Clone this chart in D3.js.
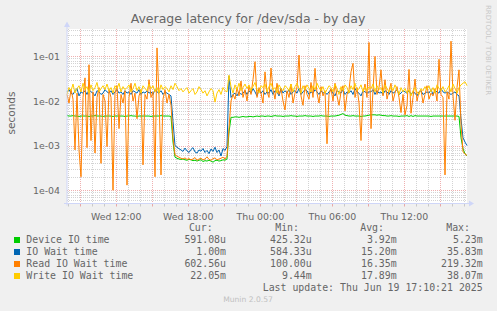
<!DOCTYPE html>
<html lang="en">
<head>
<meta charset="UTF-8">
<title>Average latency for /dev/sda - by day</title>
<script src="https://cdn.jsdelivr.net/npm/d3@7"></script>
<style>
    body{margin:0;background:#f0f0f0;}
    svg{display:block;font-family:'DejaVu Sans',sans-serif;}
    .axis text{fill:#666;font-size:9.4px;font-family:'DejaVu Sans',sans-serif;}
    .legend text{font-family:'DejaVu Sans Mono',monospace;font-size:9.9px;fill:#666;}
</style>
</head>
<body>
<div id="container"></div>
<script>
    // 10 minute samples starting Wed 07:56, values in milliseconds
    var startTime = new Date(2025, 5, 18, 7, 56)
    var stepMinutes = 10

    var deviceMs = [
      4.7,4.6,4.6,4.7,4.6,4.6,4.5,4.6,4.6,4.6,
      4.6,4.5,4.6,4.6,4.7,4.6,4.6,4.6,4.5,4.6,
      4.6,4.6,4.6,4.5,4.6,4.6,4.6,4.6,4.6,4.5,
      4.6,4.6,4.7,4.6,4.6,4.5,4.6,4.6,4.6,4.6,
      4.6,4.6,4.5,4.6,4.6,4.6,4.6,4.7,4.6,4.6,
      4.6,4.6,4.5,1.2,0.55,0.52,0.50,0.49,0.50,0.48,
      0.47,0.49,0.48,0.46,0.47,0.45,0.47,0.48,0.44,0.46,
      0.45,0.47,0.45,0.4253,0.46,0.47,0.45,0.46,0.48,0.47,
      0.50,2.0,4.3,4.3,4.4,4.4,4.3,4.4,4.5,4.4,
      4.4,4.5,4.5,4.4,4.5,4.6,4.5,4.6,4.6,4.5,
      4.6,4.6,4.5,4.6,4.7,4.6,4.6,4.6,4.5,4.6,
      4.6,4.6,4.7,4.6,4.6,4.5,4.6,4.6,4.6,4.7,
      4.6,4.6,4.6,4.5,4.6,4.6,4.6,4.7,4.6,4.6,
      4.6,4.5,4.6,4.6,4.6,4.7,4.8,5.0,5.23,4.8,
      4.7,4.6,4.6,4.7,4.6,4.6,4.6,4.5,4.6,4.6,
      4.7,4.8,4.9,4.9,4.9,4.8,4.9,4.8,4.7,4.7,
      4.6,4.6,4.7,4.6,4.6,4.6,4.5,4.6,4.6,4.6,
      4.7,4.5,4.7,4.5,4.7,4.6,4.6,4.6,4.6,4.6,
      4.6,4.6,4.5,4.6,4.6,4.6,4.6,4.6,4.6,4.6,
      4.6,4.6,4.6,4.6,4.6,4.6,4.5,1.5,0.85,0.65,
      0.59108
    ]
    var ioWaitMs = [
      16,18,15,14,17,19,13,16,15,17,
      14,18,16,15,13,17,16,14,15,18,
      16,15,17,14,16,18,15,16,14,17,
      15,16,14,17,16,15,18,14,16,15,
      17,15,16,14,18,16,15,17,14,16,
      15,14,13,3.5,1.0,0.92,0.85,0.80,0.74,0.88,
      0.76,0.70,0.82,0.90,0.72,0.68,0.80,0.75,0.86,0.70,
      0.78,0.66,0.84,0.74,0.92,0.70,0.80,0.5843,0.86,0.78,
      0.95,35.83,12,14,15,13,16,14,15,17,
      14,17,15,19,16,13,18,15,17,14,
      16,15,18,14,17,16,13,19,15,17,
      15,18,14,16,17,15,19,14,16,18,
      17,14,16,15,18,16,14,17,15,16,
      14,16,18,15,13,17,16,15,18,14,
      16,15,17,14,19,16,15,13,17,16,
      15,16,16,18,14,17,15,16,14,17,
      16,14,17,15,16,18,14,15,17,16,
      15,17,14,16,15,13,16,17,14,15,
      16,15,18,14,17,16,15,19,16,15,
      16,15,14,15,16,14,13,4.0,1.5,1.2,
      1.00
    ]
    var readMs = [
      14,9,18,11,0.8,15,0.8,0.2,12,33,
      0.9,65,1.3,16,0.68,12,20,0.4,14,10,
      0.95,18,12,0.1,15,22,2.4,14,9,17,
      0.13,12,25,10,15,4.0,13,18,0.37,14,
      11,30,12,16,0.2,155,13,0.22,11,18,
      9,14,8,1.5,0.62,0.58,0.55,0.52,0.50,0.53,
      0.49,0.51,0.48,0.50,0.54,0.47,0.50,0.52,0.48,0.50,
      0.56,0.49,0.47,0.51,0.53,0.48,0.50,0.52,0.55,0.50,
      0.58,2.5,10,14,11,20,13,28,12,18,
      10,22,14,30,76,12,20,15,9,45,
      16,12,55,18,11,25,14,19,10,6.3,
      17,12,24,9,15,20,107,13,8,22,
      14,11,26,12,54,15,9,21,13,17,
      1.1,14,19,10,25,13,8,16,22,6,
      14,18,45,70,12,20,9,1.3,15,24,
      12,205,2.4,18,100,14,20,50,13,30,
      11,17,25,10,15,21,12,5.5,14,4.9,
      8,51,5.3,12,31,10,16,18,9,14,
      22,11,15,13,19,10,86,14,12,0.22,
      16,11,219.32,13,3.7,20,50,3.0,0.73,0.65,
      0.60256
    ]
    var writeMs = [
      14,20,17,24,15,19,22,16,25,18,
      21,15,23,17,20,26,16,19,22,18,
      24,17,20,15,22,19,25,16,21,18,
      20,23,16,19,25,17,21,15,22,19,
      17,24,19,22,16,20,15,23,18,21,
      19,16,22,18,25,21,17,19,16,18,
      20,15,17,19,14,16,21,18,15,17,
      13,16,19,17,9.44,15,18,14,20,17,
      16,38.07,21,15,23,18,25,17,20,24,
      19,23,17,21,26,18,15,22,20,24,
      16,21,25,18,20,15,23,19,17,22,
      20,17,24,16,21,25,19,15,22,18,
      23,19,16,22,18,25,20,17,21,15,
      18,22,20,16,24,19,14,21,17,23,
      20,15,22,18,25,17,19,23,16,21,
      17,21,19,24,16,22,18,20,15,23,
      19,16,21,17,23,18,14,20,16,19,
      15,18,13,17,20,16,14,19,17,21,
      18,22,16,20,15,23,19,17,21,16,
      18,22,16,24,19,15,20,23,25,27,
      22.05
    ]

    var seriesNames = ["Device IO time", "IO Wait time", "Read IO Wait time", "Write IO Wait time"]
    var seriesColors = ["#00cc00", "#0066b3", "#ff8000", "#ffcc00"]
    var curLabels = ["591.08u", "1.00m", "602.56u", "22.05m"]
    var minLabels = ["425.32u", "584.33u", "100.00u", "9.44m"]
    var avgLabels = ["3.92m", "15.20m", "16.35m", "17.89m"]
    var maxLabels = ["5.23m", "35.83m", "219.32m", "38.07m"]
    var yTickValues = [1e-4, 1e-3, 1e-2, 1e-1]

    let width = 497
    let height = 311
    let plotLeft = 67, plotRight = 467, plotTop = 29, plotBottom = 203.5

    let svg = d3.select("#container")
      .append("svg")
      .attr("width", width)
      .attr("height", height)

    let times = deviceMs.map((d, i) => new Date(startTime.getTime() + i * stepMinutes * 60000))

    let xScale = d3.scaleTime()
      .domain([times[0], times[times.length - 1]])
      .range([plotLeft, plotRight])

    let yScale = d3.scaleLog()
      .domain([Math.pow(10, -4.298), Math.pow(10, -0.386)])
      .range([plotBottom, plotTop])

    // white canvas
    svg.append("rect")
      .attr("x", plotLeft).attr("y", plotTop)
      .attr("width", plotRight - plotLeft).attr("height", plotBottom - plotTop)
      .attr("fill", "#fff")

    let minorColor = "rgba(128,128,128,0.35)"
    let majorColor = "rgba(220,80,80,0.45)"
    let isDecade = v => Math.abs(Math.log10(v) - Math.round(Math.log10(v))) < 1e-6

    // horizontal grid
    let yGrid = yScale.ticks()
    svg.append("g").selectAll("line")
      .data(yGrid)
      .enter().append("line")
      .attr("x1", plotLeft).attr("x2", plotRight)
      .attr("y1", d => Math.round(yScale(d)) + 0.5)
      .attr("y2", d => Math.round(yScale(d)) + 0.5)
      .attr("stroke", d => isDecade(d) ? majorColor : minorColor)
      .attr("stroke-dasharray", "1,1")

    // vertical grid: hours grey, every 3 hours red
    let hourTicks = xScale.ticks(d3.timeHour.every(1))
    svg.append("g").selectAll("line")
      .data(hourTicks)
      .enter().append("line")
      .attr("x1", d => Math.round(xScale(d)) + 0.5)
      .attr("x2", d => Math.round(xScale(d)) + 0.5)
      .attr("y1", plotTop).attr("y2", plotBottom)
      .attr("stroke", d => d.getHours() % 3 == 0 ? majorColor : minorColor)
      .attr("stroke-dasharray", "1,1")

    // small ticks under the x axis
    svg.append("g").selectAll("line")
      .data(hourTicks)
      .enter().append("line")
      .attr("x1", d => Math.round(xScale(d)) + 0.5)
      .attr("x2", d => Math.round(xScale(d)) + 0.5)
      .attr("y1", plotBottom).attr("y2", plotBottom + 3)
      .attr("stroke", d => d.getHours() % 3 == 0 ? majorColor : minorColor)

    // series lines
    let allSeries = [deviceMs, ioWaitMs, readMs, writeMs]
    let line = d3.line()
      .x((d, i) => xScale(times[i]))
      .y(d => yScale(d / 1000))

    svg.append("g").selectAll("path")
      .data(allSeries)
      .enter().append("path")
      .attr("d", d => line(d))
      .attr("fill", "none")
      .attr("stroke", (d, i) => seriesColors[i])
      .attr("stroke-width", 1)

    // axis lines and arrows
    let axisColor = "#cfd6f8"
    svg.append("line")
      .attr("x1", plotLeft - 3).attr("x2", plotRight + 3)
      .attr("y1", plotBottom).attr("y2", plotBottom)
      .attr("stroke", axisColor)
    svg.append("line")
      .attr("x1", plotLeft).attr("x2", plotLeft)
      .attr("y1", plotBottom + 2).attr("y2", plotTop - 3)
      .attr("stroke", axisColor)
    svg.append("path")
      .attr("d", `M${plotRight + 2},${plotBottom - 3}L${plotRight + 7},${plotBottom}L${plotRight + 2},${plotBottom + 3}Z`)
      .attr("fill", axisColor)
    svg.append("path")
      .attr("d", `M${plotLeft - 3},${plotTop - 2}L${plotLeft},${plotTop - 7.5}L${plotLeft + 3},${plotTop - 2}Z`)
      .attr("fill", axisColor)

    // x axis labels
    let xAxis = d3.axisBottom(xScale)
      .ticks(d3.timeHour.every(6))
      .tickFormat(d3.timeFormat("%a %H:%M"))
      .tickSize(0)
      .tickPadding(9.4)
    svg.append("g")
      .attr("class", "axis")
      .attr("transform", "translate(0," + plotBottom + ")")
      .call(xAxis)
      .call(g => g.select(".domain").remove())

    // y axis labels
    let yAxis = d3.axisLeft(yScale)
      .tickValues(yTickValues)
      .tickFormat(d => "1e-0" + Math.round(-Math.log10(d)))
      .tickSize(0)
      .tickPadding(7)
    svg.append("g")
      .attr("class", "axis")
      .attr("transform", "translate(" + plotLeft + ",0)")
      .call(yAxis)
      .call(g => g.select(".domain").remove())

    // titles
    svg.append("text")
      .attr("x", 248).attr("y", 23)
      .attr("text-anchor", "middle")
      .attr("font-size", "12.5px")
      .attr("fill", "#666")
      .text("Average latency for /dev/sda - by day")

    svg.append("text")
      .attr("transform", "translate(14.5,113) rotate(-90)")
      .attr("text-anchor", "middle")
      .attr("font-size", "10.5px")
      .attr("fill", "#666")
      .text("seconds")

    svg.append("text")
      .attr("transform", "translate(486,5) rotate(90)")
      .attr("font-size", "7px")
      .attr("fill", "#c8c8c8")
      .text("RRDTOOL / TOBI OETIKER")

    // legend
    let legend = svg.append("g").attr("class", "legend")
    let headers = [["Cur:", 212.7], ["Min:", 299], ["Avg:", 384], ["Max:", 470]]
    legend.selectAll("text.hdr")
      .data(headers)
      .enter().append("text")
      .attr("class", "hdr")
      .attr("x", d => d[1])
      .attr("y", 231)
      .attr("text-anchor", "end")
      .text(d => d[0])

    let rows = legend.selectAll("g.row")
      .data(seriesNames)
      .enter().append("g")
      .attr("class", "row")
      .attr("transform", (d, i) => "translate(0," + (243 + i * 12) + ")")

    rows.append("rect")
      .attr("x", 14).attr("y", -6)
      .attr("width", 6).attr("height", 6)
      .attr("fill", (d, i) => seriesColors[i])
    rows.append("text").attr("x", 26.3).text(d => d)
    rows.append("text").attr("x", 226).attr("text-anchor", "end").text((d, i) => curLabels[i])
    rows.append("text").attr("x", 311.7).attr("text-anchor", "end").text((d, i) => minLabels[i])
    rows.append("text").attr("x", 396.7).attr("text-anchor", "end").text((d, i) => avgLabels[i])
    rows.append("text").attr("x", 482.7).attr("text-anchor", "end").text((d, i) => maxLabels[i])

    legend.append("text")
      .attr("x", 482.7).attr("y", 291)
      .attr("text-anchor", "end")
      .text("Last update: Thu Jun 19 17:10:21 2025")

    svg.append("text")
      .attr("x", 248).attr("y", 301.5)
      .attr("text-anchor", "middle")
      .attr("font-size", "7.6px")
      .attr("fill", "#c0c0c0")
      .text("Munin 2.0.57")
</script>
</body>
</html>
